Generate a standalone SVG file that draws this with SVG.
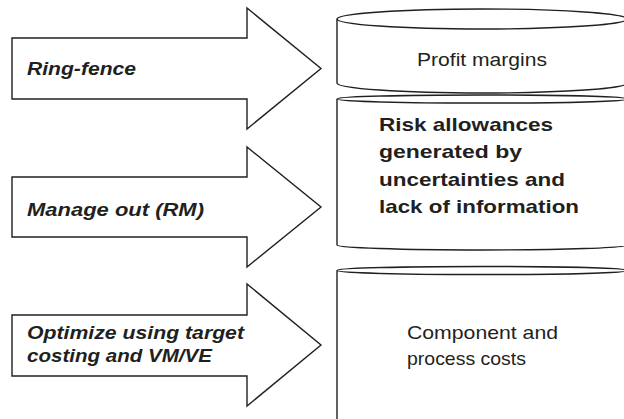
<svg xmlns="http://www.w3.org/2000/svg" width="624" height="419" viewBox="0 0 624 419">
<style>
.shape{fill:#fff;stroke:#231f20;stroke-width:1.4;stroke-linejoin:miter}
.lbl{font-family:"Liberation Sans",Arial,sans-serif;font-size:19px;fill:#231f20}
.it{font-weight:bold;font-style:italic}
.b{font-weight:bold}
</style>
<rect x="0" y="0" width="624" height="419" fill="#fff"/>
<g id="arrow-ringfence">
<path class="shape" d="M12 38 L247 38 L247 8 L321 68.5 L247 129 L247 99 L12 99 Z"/>
<text class="lbl it" x="27" y="75" textLength="109" lengthAdjust="spacingAndGlyphs">Ring-fence</text>
</g>
<g id="arrow-manage">
<path class="shape" d="M12 177 L247 177 L247 147 L321 207 L247 267 L247 237 L12 237 Z"/>
<text class="lbl it" x="27" y="215.5" textLength="177" lengthAdjust="spacingAndGlyphs">Manage out (RM)</text>
</g>
<g id="arrow-optimize">
<path class="shape" d="M12 315 L247 315 L247 284 L321 345 L247 406 L247 376 L12 376 Z"/>
<text class="lbl it" x="27" y="339" textLength="217" lengthAdjust="spacingAndGlyphs">Optimize using target</text>
<text class="lbl it" x="27" y="362" textLength="185" lengthAdjust="spacingAndGlyphs">costing and VM/VE</text>
</g>
<g id="cyl-profit">
<path class="shape" d="M337 19 L337 83 A145 10 0 0 0 627 83 L627 19"/>
<ellipse class="shape" cx="482" cy="19" rx="145" ry="10"/>
<text class="lbl" x="417" y="65.5" textLength="130" lengthAdjust="spacingAndGlyphs">Profit margins</text>
</g>
<g id="cyl-risk">
<path class="shape" d="M337 99 L337 245 A145 5 0 0 0 627 245 L627 99"/>
<ellipse class="shape" cx="482" cy="99" rx="145" ry="4"/>
<text class="lbl b" x="379" y="131" textLength="174" lengthAdjust="spacingAndGlyphs">Risk allowances</text>
<text class="lbl b" x="379" y="158" textLength="143" lengthAdjust="spacingAndGlyphs">generated by</text>
<text class="lbl b" x="379" y="185.5" textLength="186" lengthAdjust="spacingAndGlyphs">uncertainties and</text>
<text class="lbl b" x="379" y="213" textLength="200" lengthAdjust="spacingAndGlyphs">lack of information</text>
</g>
<g id="cyl-component">
<path class="shape" d="M337 270.5 L337 430 L627 430 L627 270.5"/>
<ellipse class="shape" cx="482" cy="270.5" rx="145" ry="4"/>
<text class="lbl" x="407" y="339" textLength="151" lengthAdjust="spacingAndGlyphs">Component and</text>
<text class="lbl" x="407" y="365" textLength="119" lengthAdjust="spacingAndGlyphs">process costs</text>
</g>
<g id="connectors"></g>
</svg>
